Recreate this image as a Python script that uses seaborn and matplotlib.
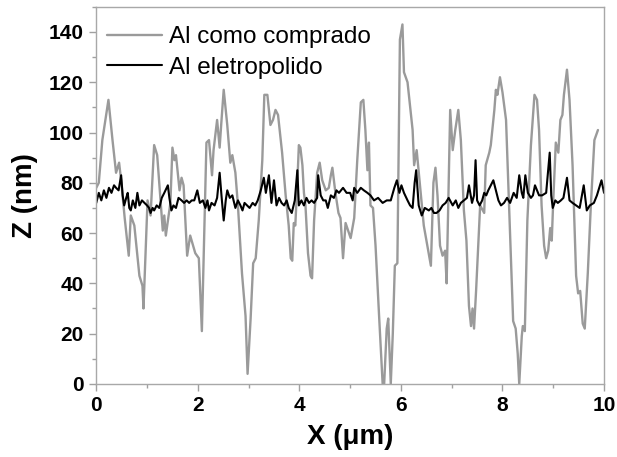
import pandas as pd
import matplotlib
matplotlib.use('Agg')
import matplotlib.pyplot as plt
from matplotlib.ticker import MultipleLocator
import seaborn as sns

#data
gray_x = [0.0, 0.05, 0.12, 0.24, 0.32, 0.39, 0.45, 0.49, 0.56, 0.64, 0.68, 0.75, 0.85, 0.91, 0.93,
          1.0, 1.01, 1.07, 1.14, 1.2, 1.31, 1.34, 1.37, 1.46, 1.5, 1.54, 1.57, 1.64, 1.68, 1.72, 1.79,
          1.85, 1.95, 2.02, 2.08, 2.17, 2.22, 2.28, 2.31, 2.38, 2.43, 2.46, 2.51, 2.58, 2.64, 2.68,
          2.74, 2.79, 2.87, 2.94, 2.98, 3.04, 3.09, 3.14, 3.2, 3.27, 3.31, 3.37, 3.43, 3.48, 3.53,
          3.58, 3.66, 3.73, 3.79, 3.83, 3.86, 3.89, 3.92, 3.96, 3.99, 4.02, 4.06, 4.09, 4.12, 4.17,
          4.22, 4.25, 4.29, 4.35, 4.4, 4.45, 4.52, 4.58, 4.62, 4.65, 4.71, 4.77, 4.81, 4.86, 4.91,
          5.01, 5.08, 5.14, 5.21, 5.26, 5.3, 5.34, 5.37, 5.4, 5.45, 5.5, 5.57, 5.64, 5.67, 5.72,
          5.75, 5.8, 5.84, 5.88, 5.93, 5.98, 6.03, 6.06, 6.13, 6.23, 6.26, 6.31, 6.39, 6.45, 6.59,
          6.64, 6.68, 6.72, 6.77, 6.82, 6.87, 6.9, 6.97, 7.02, 7.07, 7.13, 7.18, 7.24, 7.29, 7.34,
          7.38, 7.41, 7.44, 7.48, 7.56, 7.64, 7.67, 7.74, 7.77, 7.84, 7.87, 7.9, 7.95, 8.0, 8.07,
          8.13, 8.21, 8.26, 8.3, 8.33, 8.38, 8.4, 8.44, 8.49, 8.56, 8.63, 8.68, 8.72, 8.77, 8.82,
          8.86, 8.9, 8.94, 8.97, 9.0, 9.05, 9.1, 9.14, 9.18, 9.21, 9.27, 9.32, 9.38, 9.45, 9.49,
          9.53, 9.58, 9.62, 9.68, 9.74, 9.81, 9.88]
gray_z = [78, 80, 97, 113, 97, 84, 88, 81, 66, 51, 67, 63, 43, 39, 30,
          67, 73, 67, 95, 91, 61, 67, 59, 72, 94, 89, 91, 77, 82, 79, 51,
          59, 52, 50, 21, 96, 97, 83, 93, 105, 94, 103, 117, 103, 88, 91,
          84, 71, 44, 27, 4, 26, 48, 50, 65, 89, 115, 115, 103, 105, 109,
          107, 92, 75, 63, 50, 49, 64, 63, 80, 95, 94, 87, 76, 71, 52,
          43, 42, 65, 84, 88, 81, 77, 78, 83, 86, 76, 68, 66, 50, 64,
          58, 66, 89, 112, 113, 101, 85, 96, 71, 70, 55, 27, 0, 0, 22,
          26, 0, 20, 47, 48, 137, 143, 124, 120, 101, 87, 93, 76, 63, 47,
          80, 86, 75, 55, 51, 53, 40, 109, 93, 101, 109, 97, 69, 57, 31,
          23, 30, 22, 37, 71, 68, 87, 92, 95, 109, 117, 115, 122, 116, 105,
          71, 25, 22, 12, 0, 19, 23, 21, 65, 95, 115, 113, 101, 71, 55,
          50, 53, 62, 57, 73, 96, 92, 105, 107, 115, 125, 113, 87, 43, 36,
          37, 24, 22, 44, 71, 97, 101]

black_x = [0.0, 0.05, 0.1, 0.15, 0.2, 0.25, 0.3, 0.35, 0.39, 0.44, 0.49, 0.52, 0.55, 0.59, 0.62,
           0.65, 0.68, 0.72, 0.77, 0.81, 0.85, 0.9, 0.95, 1.0, 1.04, 1.07, 1.11, 1.14, 1.19, 1.24,
           1.29, 1.34, 1.41, 1.44, 1.48, 1.52, 1.57, 1.62, 1.68, 1.73, 1.78, 1.83, 1.88, 1.93, 1.99,
           2.04, 2.1, 2.15, 2.19, 2.22, 2.27, 2.33, 2.38, 2.43, 2.47, 2.51, 2.55, 2.58, 2.63, 2.68,
           2.74, 2.79, 2.84, 2.88, 2.92, 2.97, 3.02, 3.08, 3.13, 3.18, 3.24, 3.3, 3.34, 3.4, 3.45,
           3.5, 3.55, 3.6, 3.65, 3.7, 3.75, 3.79, 3.85, 3.91, 3.96, 3.99, 4.04, 4.09, 4.14, 4.19,
           4.24, 4.29, 4.35, 4.37, 4.42, 4.47, 4.52, 4.56, 4.62, 4.68, 4.73, 4.78, 4.86, 4.93, 5.0,
           5.05, 5.08, 5.14, 5.21, 5.27, 5.34, 5.4, 5.47, 5.55, 5.64, 5.72, 5.8, 5.87, 5.92, 5.97,
           6.01, 6.06, 6.13, 6.18, 6.23, 6.27, 6.3, 6.35, 6.41, 6.47, 6.55, 6.6, 6.65, 6.7, 6.76,
           6.82, 6.88, 6.94, 7.02, 7.08, 7.13, 7.18, 7.24, 7.3, 7.34, 7.4, 7.44, 7.47, 7.5, 7.55,
           7.6, 7.64, 7.68, 7.72, 7.77, 7.82, 7.87, 7.92, 7.97, 8.03, 8.09, 8.15, 8.22, 8.28, 8.33,
           8.38, 8.41, 8.45, 8.5, 8.56, 8.6, 8.64, 8.68, 8.72, 8.78, 8.86, 8.93, 8.96, 8.99, 9.04,
           9.09, 9.15, 9.2, 9.27, 9.32, 9.38, 9.45, 9.52, 9.6, 9.66, 9.72, 9.8, 9.86, 9.95, 10.0]
black_z = [72, 76, 73, 77, 74, 78, 76, 79, 78, 77, 83, 75, 71, 74, 76,
           70, 69, 73, 70, 76, 71, 73, 72, 71, 70, 68, 70, 69, 71, 70,
           74, 76, 79, 74, 69, 71, 70, 74, 73, 72, 73, 72, 73, 73, 77,
           72, 73, 70, 73, 69, 72, 71, 74, 84, 74, 65, 73, 77, 74, 75,
           70, 73, 71, 69, 72, 71, 70, 72, 71, 73, 77, 82, 76, 83, 72,
           81, 71, 74, 72, 71, 73, 70, 68, 73, 85, 71, 73, 71, 74, 72,
           73, 72, 74, 83, 75, 73, 73, 70, 75, 74, 77, 76, 78, 76, 76,
           73, 78, 76, 78, 77, 76, 75, 73, 74, 72, 73, 73, 78, 81, 76,
           79, 76, 73, 71, 70, 80, 85, 71, 67, 70, 69, 70, 68, 68, 69,
           71, 72, 74, 71, 73, 70, 72, 73, 74, 79, 72, 75, 89, 73, 71,
           73, 76, 75, 77, 79, 81, 77, 73, 71, 72, 74, 72, 76, 74, 83,
           76, 74, 83, 76, 74, 75, 79, 77, 75, 75, 76, 92, 75, 70, 73,
           72, 73, 74, 82, 73, 72, 71, 70, 79, 69, 71, 72, 75, 81, 76]

labels = ['Al como comprado', 'Al eletropolido']

df_gray = pd.DataFrame({'x': gray_x, 'z': gray_z})
df_black = pd.DataFrame({'x': black_x, 'z': black_z})

sns.set_style('ticks')
plt.rcParams['font.family'] = ['Liberation Sans', 'DejaVu Sans']
plt.rcParams['text.color'] = 'black'
plt.rcParams['axes.labelcolor'] = 'black'
plt.rcParams['xtick.labelcolor'] = 'black'
plt.rcParams['ytick.labelcolor'] = 'black'

fig = plt.figure(figsize=(6.17, 4.57), dpi=100)
ax = fig.add_axes([0.156, 0.16, 0.823, 0.825])

sns.lineplot(data=df_gray, x='x', y='z', ax=ax, color='#9a9a9a', lw=1.7, label=labels[0], estimator=None)
sns.lineplot(data=df_black, x='x', y='z', ax=ax, color='black', lw=1.5, label=labels[1], estimator=None)

ax.set_xlim(0, 10)
ax.set_ylim(0, 150)
ax.xaxis.set_major_locator(MultipleLocator(2))
ax.xaxis.set_minor_locator(MultipleLocator(1))
ax.yaxis.set_major_locator(MultipleLocator(20))
ax.yaxis.set_minor_locator(MultipleLocator(10))

for s in ax.spines.values():
    s.set_visible(True)
    s.set_color('#a8a8a8')
    s.set_linewidth(1.0)
ax.tick_params(which='both', direction='out', color='#a0a0a0', width=1.0)
ax.tick_params(which='major', length=5, labelsize=15, pad=4)
ax.tick_params(which='minor', length=3)
for t in ax.get_xticklabels() + ax.get_yticklabels():
    t.set_fontweight('bold')

ax.set_xlabel('X (\u03bcm)', fontsize=20, fontweight='bold', labelpad=6)
ax.set_ylabel('Z (nm)', fontsize=20, fontweight='bold', labelpad=8)

ax.legend(loc='upper left', bbox_to_anchor=(0.017, 0.955), frameon=False, fontsize=17.5,
          handlelength=2.25, handletextpad=0.3, labelspacing=0.35, borderaxespad=0, borderpad=0.1)

fig.savefig('out.png', dpi=100)
